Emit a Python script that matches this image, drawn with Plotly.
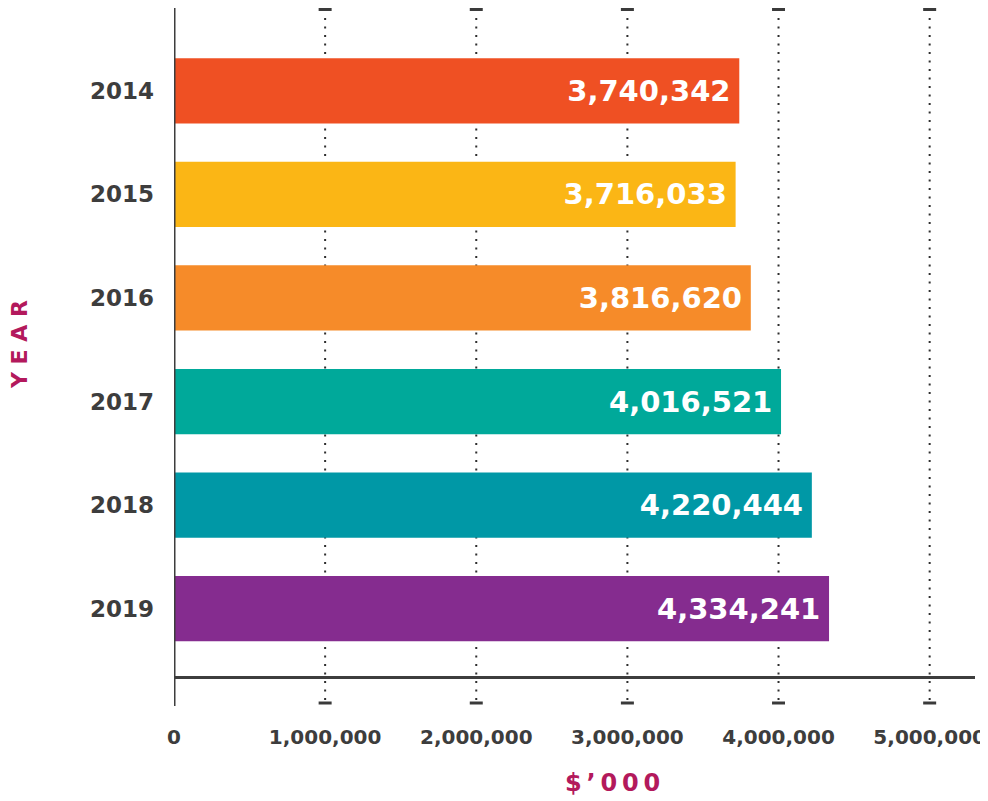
import plotly.graph_objects as go

years = ["2014", "2015", "2016", "2017", "2018", "2019"]
values = [3740342, 3716033, 3816620, 4016521, 4220444, 4334241]
bar_colors = ["#EF5023", "#FBB615", "#F68B29", "#00A99A", "#0098A6", "#852C8F"]
x_ticks = [0, 1000000, 2000000, 3000000, 4000000, 5000000]
x_tick_labels = ["0", "1,000,000", "2,000,000", "3,000,000", "4,000,000", "5,000,000"]

FONT = "DejaVu Sans"
AXIS = "#3d3d3d"
ACCENT = "#B3195C"

# the page adds an 8px body margin, so the figure is drawn 8px smaller
OFF = 8
W, H = 988 - OFF, 801 - OFF
PLOT_L, PLOT_R, PLOT_T, PLOT_B = 174, 975, 8, 676   # target page pixels
L = PLOT_L - OFF
T = PLOT_T - OFF
R = W - (PLOT_R - OFF)
B = H - (PLOT_B - OFF)
PH = PLOT_B - PLOT_T
PW = PLOT_R - PLOT_L

def py(pix):
    return 1 - (pix - PLOT_T) / PH

def px(pix):
    return (pix - PLOT_L) / PW

fig = go.Figure()
fig.add_trace(go.Bar(
    x=values, y=years, orientation="h",
    marker=dict(color=bar_colors, line=dict(width=0)),
    width=0.63,
    texttemplate="%{x:,.0f}\u2009",
    textposition="inside", insidetextanchor="end",
    constraintext="none",
    textfont=dict(family=FONT, size=29, color="white", weight="bold"),
    hoverinfo="skip",
))

shapes = []
for tv in x_ticks[1:]:
    shapes.append(dict(type="line", xref="x", yref="paper", x0=tv, x1=tv,
                       y0=py(700), y1=py(12), layer="below",
                       line=dict(color="#2e2e2e", width=2, dash="2px,6.5px")))
    for ypix in (9.5, 703):
        shapes.append(dict(type="line", xref="x", yref="paper", xsizemode="pixel",
                           xanchor=tv, x0=-6.5, x1=6.5, y0=py(ypix), y1=py(ypix),
                           line=dict(color="#3a3a3a", width=3)))
shapes.append(dict(type="line", xref="x", yref="paper", x0=0, x1=0,
                   y0=py(706), y1=py(8), line=dict(color=AXIS, width=3)))

fig.update_layout(
    width=W, height=H,
    margin=dict(l=L, r=R, t=T, b=B, pad=0),
    paper_bgcolor="white", plot_bgcolor="white",
    showlegend=False,
    shapes=shapes,
    xaxis=dict(range=[0, 5.3e6], tickvals=x_ticks, ticktext=x_tick_labels,
               showgrid=False, zeroline=False, showline=True, linecolor=AXIS, linewidth=3,
               ticks="", ticklabelstandoff=41,
               tickfont=dict(family=FONT, size=20, color=AXIS, weight="bold")),
    yaxis=dict(type="category", categoryorder="array", categoryarray=years,
               range=[5.65, -0.8], showgrid=False, zeroline=False, showline=False,
               ticks="", ticklabelstandoff=19,
               tickfont=dict(family=FONT, size=23, color=AXIS, weight="bold")),
    annotations=[
        dict(text="Y E A R", xref="paper", yref="paper",
             x=px(20), y=py(345), textangle=-90, showarrow=False,
             font=dict(family=FONT, size=22, color=ACCENT, weight="bold"),
             xanchor="center", yanchor="middle"),
        dict(text="$\u2009’\u20090\u20090\u20090", xref="paper", yref="paper",
             x=px(612), y=py(783), showarrow=False,
             font=dict(family=FONT, size=24, color=ACCENT, weight="bold"),
             xanchor="center", yanchor="middle"),
    ],
)

fig.write_html("out.html")
